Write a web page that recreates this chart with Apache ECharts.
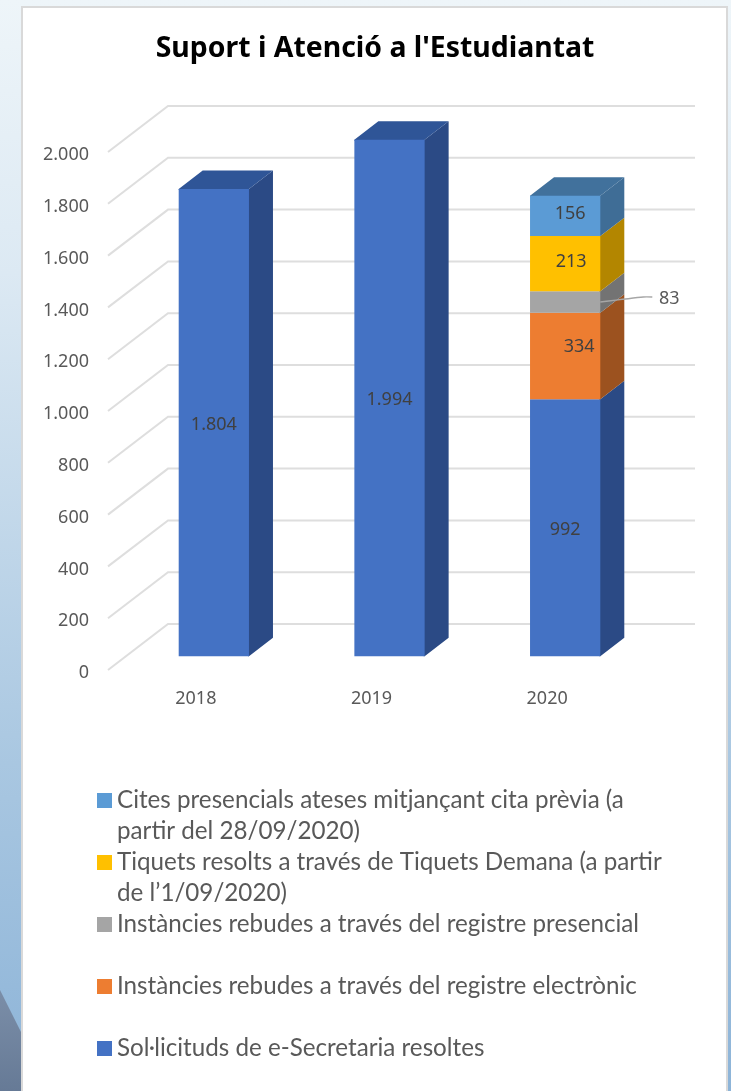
<!DOCTYPE html>
<html>
<head>
<meta charset="utf-8">
<style>html,body{margin:0;padding:0;background:#fff}#c{width:731px;height:1091px}</style>
<script src="https://cdn.jsdelivr.net/npm/echarts@6/dist/echarts.min.js"></script>
</head>
<body>
<div id="c"></div>
<script>
const years = ['2018', '2019', '2020'];
const axisTicks = [0, 200, 400, 600, 800, 1000, 1200, 1400, 1600, 1800, 2000];
const solicituds = [1804, 1994, 992];
const electronic = [null, null, 334];
const presencial = [null, null, 83];
const tiquets = [null, null, 213];
const cites = [null, null, 156];

const nameSolicituds = 'Sol·licituds de e-Secretaria resoltes';
const nameElectronic = 'Instàncies rebudes a través del registre electrònic';
const namePresencial = 'Instàncies rebudes a través del registre presencial';
const nameTiquets = 'Tiquets resolts a través de Tiquets Demana (a partir\nde l’1/09/2020)';
const nameCites = 'Cites presencials ateses mitjançant cita prèvia (a\npartir del 28/09/2020)';

const wallDepth = [60, -46];
const barFront = 0.3, barBack = 0.7;
const TEXT = '#595959', SANS = '"Noto Sans","Open Sans",sans-serif';

const styles = [
  {name: nameSolicituds, vals: solicituds, front: '#4472c4', side: '#2b4a85', top: '#2f5597'},
  {name: nameElectronic, vals: electronic, front: '#ed7d31', side: '#9c521f', top: '#9c521f'},
  {name: namePresencial, vals: presencial, front: '#a5a5a5', side: '#737373', top: '#737373'},
  {name: nameTiquets,    vals: tiquets,    front: '#ffc000', side: '#b38600', top: '#b38600'},
  {name: nameCites,      vals: cites,      front: '#5b9bd5', side: '#3f6d96', top: '#41719c'}
];
const labelNudge = {2: {1: [14, -11], 3: [6, -4], 4: [5, -4]}};
const fmt = v => String(v).replace(/\B(?=(\d{3})+$)/g, '.');

let base = [0, 0, 0];
const barSeries = styles.map((s, si) => {
  const data = s.vals.map((v, i) => {
    if (v == null) return [i, null, null, v];
    const row = [i, base[i], base[i] + v, v];
    base[i] += v;
    return row;
  }).filter(r => r[3] != null);
  return {
    type: 'custom', name: s.name, z: 3,
    coordinateSystem: 'cartesian2d',
    itemStyle: {color: s.front},
    encode: {x: 0, y: [1, 2]},
    data,
    renderItem(params, api) {
      const xi = api.value(0), lo = api.value(1), hi = api.value(2);
      const bw = api.size([1, 0])[0] * 0.4;
      const fx = wallDepth[0] * barFront, fy = wallDepth[1] * barFront;
      const dx = wallDepth[0] * (barBack - barFront), dy = wallDepth[1] * (barBack - barFront);
      const pLo = api.coord([xi, lo]), pHi = api.coord([xi, hi]);
      const L = pLo[0] - bw / 2 + fx, R = L + bw, B = pLo[1] + fy, T = pHi[1] + fy;
      const kids = [
        {type: 'polygon', shape: {points: [[R - 1, B], [R, B], [R + dx, B + dy], [R + dx, T + dy], [R, T], [R - 1, T]]}, style: {fill: s.side}}
      ];
      if (hi === base[xi]) kids.push({type: 'polygon', shape: {points: [[L, T + 1], [L, T], [L + dx, T + dy], [R + dx, T + dy], [R, T], [R, T + 1]]}, style: {fill: s.top}});
      kids.push({type: 'rect', shape: {x: L, y: T, width: bw, height: B - T}, style: {fill: s.front}});
      const n = (labelNudge[xi] || {})[si] || [0, 0];
      if (si === 2) {
        const my = (T + B) / 2;
        kids.push({type: 'polyline', shape: {points: [[R, my], [R + 43, my - 5], [R + 52, my - 5]], smooth: 0.2}, style: {stroke: '#a6a6a6', lineWidth: 1.3, fill: 'none'}});
        kids.push({type: 'text', style: {x: R + 69, y: my - 3, text: fmt(api.value(3)), fill: TEXT, font: '18px ' + SANS, align: 'center', verticalAlign: 'middle'}});
      } else {
        kids.push({type: 'text', style: {x: (L + R) / 2 + n[0], y: (T + B) / 2 + n[1] + 2, text: fmt(api.value(3)), fill: '#404040', font: '18px ' + SANS, align: 'center', verticalAlign: 'middle'}});
      }
      return {type: 'group', children: kids};
    }
  };
});

const wallSeries = {
  type: 'custom', name: 'walls', z: 1, silent: true,
  coordinateSystem: 'cartesian2d',
  encode: {y: 0},
  data: axisTicks.map(t => [t]),
  renderItem(params, api) {
    const p = api.coord([0, api.value(0)]);
    const g = params.coordSys;
    const a = [g.x, p[1]], b = [g.x + wallDepth[0], p[1] + wallDepth[1]], c = [g.x + g.width + wallDepth[0], p[1] + wallDepth[1]];
    return {type: 'polyline', shape: {points: [a, b, c]}, style: {stroke: '#dedede', lineWidth: 2, fill: 'none'}};
  }
};

const chart = echarts.init(document.getElementById('c'), null, {width: 731, height: 1091});
chart.setOption({
  animation: false,
  graphic: {elements: [
    {type: 'rect', z: -20, silent: true, shape: {x: 0, y: 0, width: 731, height: 1091},
      style: {fill: new echarts.graphic.LinearGradient(0, 0, 0, 1, [
        {offset: 0, color: '#eef5f9'}, {offset: 0.25, color: '#dce9f3'}, {offset: 0.7, color: '#a9c7e1'}, {offset: 1, color: '#8db4d8'}])}},
    {type: 'polygon', z: -19, silent: true, shape: {points: [[0, 990], [21, 1032], [21, 1091], [0, 1091]]},
      style: {fill: new echarts.graphic.LinearGradient(0, 0, 0, 1, [{offset: 0, color: '#7b8ea8'}, {offset: 1, color: '#667a96'}])}},
    {type: 'rect', z: -18, silent: true, shape: {x: 22, y: 7, width: 705, height: 1090},
      style: {fill: '#fff', stroke: '#d9d9d9', lineWidth: 2}}
  ]},
  title: {
    text: "Suport i Atenció a l'Estudiantat", left: 370, top: 30, textAlign: 'center',
    textStyle: {color: '#000', fontFamily: SANS, fontWeight: 'bold', fontSize: 28.4}
  },
  grid: {left: 108, top: 152, width: 527, height: 518, containLabel: false},
  xAxis: {
    type: 'category', data: years,
    axisLine: {show: false}, axisTick: {show: false},
    axisLabel: {color: TEXT, fontFamily: SANS, fontSize: 18, margin: 20}
  },
  yAxis: {
    type: 'value', min: 0, max: 2000, interval: 200,
    axisLine: {show: false}, axisTick: {show: false}, splitLine: {show: false},
    axisLabel: {color: TEXT, fontFamily: SANS, fontSize: 18, margin: 19, formatter: fmt, verticalAlign: 'top', lineHeight: 6}
  },
  legend: {
    orient: 'vertical', left: 92, top: 749, height: 600, itemWidth: 15, itemHeight: 15, itemGap: -31, align: 'left',
    icon: 'rect', selectedMode: false,
    data: [nameCites, nameTiquets, namePresencial, nameElectronic, nameSolicituds],
    formatter: n => {
      const parts = n.split('\n');
      return ' \n' + parts[0] + '\n' + (parts[1] || ' ');
    },
    textStyle: {color: TEXT, fontFamily: 'Lato,' + SANS, fontSize: 24.2, lineHeight: 31}
  },
  series: [wallSeries, ...barSeries]
});
</script>
</body>
</html>
